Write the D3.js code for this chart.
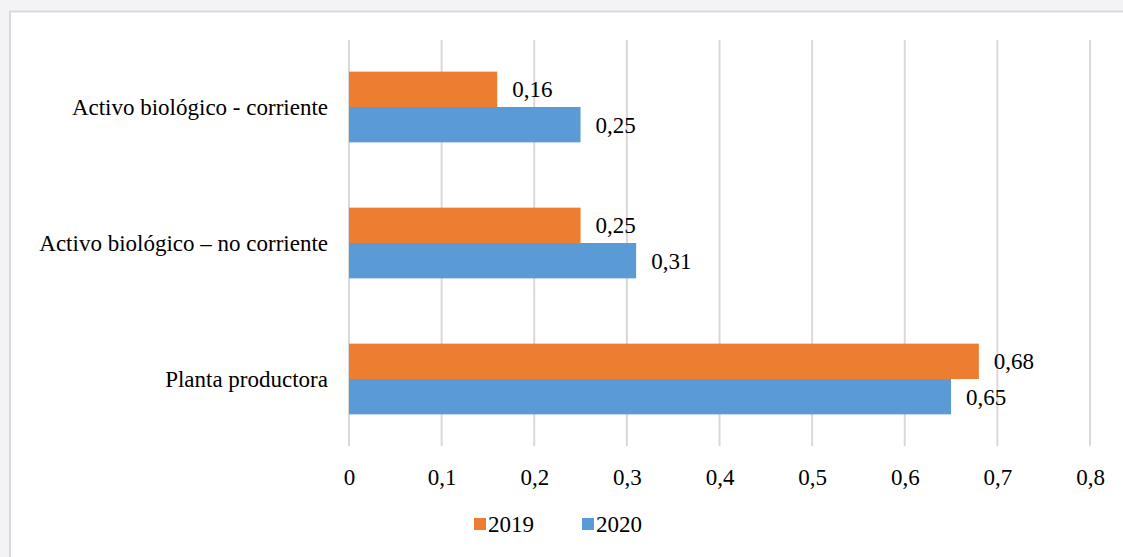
<!DOCTYPE html>
<html><head><meta charset="utf-8">
<script src="https://cdn.jsdelivr.net/npm/d3@7"></script>
</head><body style="margin:0">
<svg id="c" width="1123" height="557" font-family="Liberation Serif" style="display:block"></svg>
<script>
const categories = ["Activo biológico - corriente", "Activo biológico – no corriente", "Planta productora"];
const seriesNames = ["2019", "2020"];
const values2019 = [0.16, 0.25, 0.68];
const values2020 = [0.25, 0.31, 0.65];
const tickValues = [0, 0.1, 0.2, 0.3, 0.4, 0.5, 0.6, 0.7, 0.8];
const colors = ["#ED7D31", "#5B9BD5"];

const svg = d3.select("#c");
const FONT = "Liberation Serif";
const fs = 23;
svg.append("rect").attr("x", 0).attr("y", 0).attr("width", 1123).attr("height", 557).attr("fill", "#f3f3f5");
svg.append("rect").attr("x", 10).attr("y", 11.5).attr("width", 1130).attr("height", 560)
  .attr("fill", "#fff").attr("stroke", "#d9d9d9").attr("stroke-width", 2);

const x = d3.scaleLinear().domain([0, 0.8]).range([349, 1090]);
const y = d3.scaleBand().domain(categories).range([39, 447]).paddingInner(0.48).paddingOuter(0.24);
const sub = d3.scaleBand().domain(seriesNames).range([0, y.bandwidth()]);

svg.append("g").selectAll("line").data(tickValues).join("line")
  .attr("x1", d => x(d)).attr("x2", d => x(d)).attr("y1", 40).attr("y2", 446)
  .attr("stroke", "#d9d9d9").attr("stroke-width", 2);

const axis = d3.axisBottom(x).tickValues(tickValues).tickSize(0).tickPadding(0)
  .tickFormat(d => d3.format(".1~f")(d).replace(".", ","));
const ax = svg.append("g").attr("transform", "translate(0,485)").call(axis);
ax.select(".domain").remove();
ax.attr("font-family", FONT).attr("font-size", fs);
ax.selectAll("text").attr("fill", "#000").attr("dy", "0");

const data = categories.map((c, i) => ({cat: c, vals: [values2019[i], values2020[i]]}));
const g = svg.append("g").attr("font-family", FONT).attr("font-size", fs);
data.forEach(d => {
  d.vals.forEach((v, j) => {
    const yy = y(d.cat) + sub(seriesNames[j]);
    g.append("rect").attr("x", x(0)).attr("y", yy).attr("width", x(v) - x(0)).attr("height", sub.bandwidth())
      .attr("fill", colors[j]);
    g.append("text").attr("x", x(v) + 15).attr("y", yy + sub.bandwidth() / 2 + 8)
      .attr("fill", "#000")
      .text(String(v).replace(".", ","));
  });
});

svg.append("g").attr("font-family", FONT).attr("font-size", fs)
  .selectAll("text").data(categories).join("text")
  .attr("x", 328).attr("y", d => y(d) + y.bandwidth() / 2 + 8)
  .attr("text-anchor", "end").attr("fill", "#000").text(d => d);

const legX = [474, 582];
const leg = svg.append("g").attr("font-family", FONT).attr("font-size", fs);
seriesNames.forEach((s, j) => {
  leg.append("rect").attr("x", legX[j]).attr("y", 518).attr("width", 12).attr("height", 12).attr("fill", colors[j]);
  leg.append("text").attr("x", legX[j] + 14).attr("y", 532).attr("fill", "#000").text(s);
});
</script>
</body></html>
